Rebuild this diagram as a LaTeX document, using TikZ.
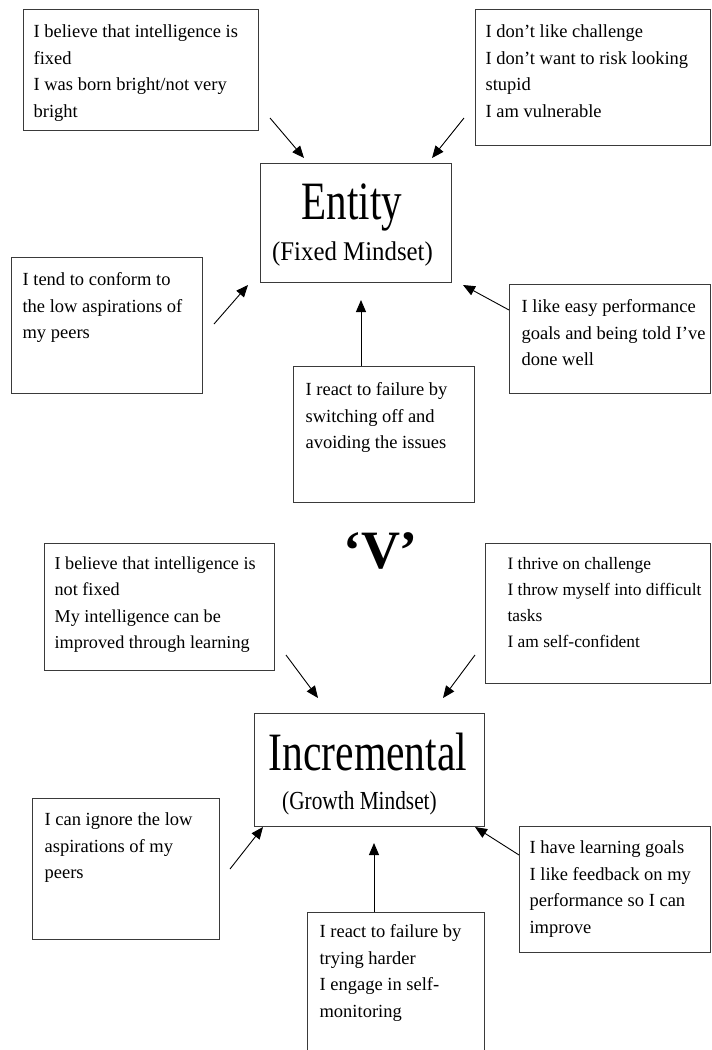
\documentclass[tikz,border=0pt]{standalone}
\usepackage{fontspec}
\setmainfont{Liberation Serif}
\usetikzlibrary{arrows.meta}

\definecolor{rim}{HTML}{3A3A3A}

% top-aligned card body: width, height, left padding, first-baseline drop, text
\newcommand\cardtext[5]{%
  \parbox[t][#2][t]{#1}{\raggedright\leftskip=#3\relax\rule{0pt}{#4}#5}}

\tikzset{
  card/.style={draw=rim, line width=1.2pt, inner sep=0pt, anchor=north west,
               font=\fontsize{18.5}{26.5}\selectfont},
  hub/.style={draw=rim, line width=1.2pt, inner sep=0pt, anchor=north west},
  headline/.style={anchor=base, inner sep=0pt, font=\fontsize{54}{54}\selectfont},
  subline/.style={anchor=base, inner sep=0pt},
  link/.style={line width=0.9pt, -{Triangle[length=12pt,width=10pt]}},
}

\begin{document}
\begin{tikzpicture}[x=1pt, y=-1pt]
\useasboundingbox (0,0) rectangle (712,1050);
\fill[white] (0,0) rectangle (712,1050);
\clip (0,0) rectangle (712,1050);

% ---------- Entity (fixed mindset) ----------
\node[hub, minimum width=191pt, minimum height=119pt] (entity) at (260,163) {};
\node[headline] (entityname) at (352,219) {\scalebox{0.76}[1]{Entity}};
\node[subline, font=\fontsize{27}{27}\selectfont] (entitysub) at (352.5,260)
  {\scalebox{0.92}[1]{(Fixed Mindset)}};

\node[card] (f1) at (23,9) {\cardtext{235pt}{121pt}{10pt}{28pt}{%
  I believe that intelligence is\\ fixed\\ I was born bright/not very\\ bright}};
\node[card] (f2) at (475,9) {\cardtext{235pt}{136pt}{10pt}{28pt}{%
  I don’t like challenge\\ I don’t want to risk looking\\ stupid\\ I am vulnerable}};
\node[card] (f3) at (11,257) {\cardtext{191pt}{136pt}{11pt}{28pt}{%
  I tend to conform to\\ the low aspirations of\\ my peers}};
\node[card] (f4) at (293,366) {\cardtext{181pt}{136pt}{12pt}{29pt}{%
  I react to failure by\\ switching off and\\ avoiding the issues}};
\node[card] (f5) at (509,284) {\cardtext{201pt}{109pt}{12pt}{28pt}{%
  I like easy performance\\ goals and being told I’ve\\ done well}};

\coordinate (f1s) at (270,118);  \coordinate (f1e) at (304,158);
\coordinate (f2s) at (464,118);  \coordinate (f2e) at (432,158);
\coordinate (f3s) at (214,324);  \coordinate (f3e) at (248,285);
\coordinate (f4s) at (361,366);  \coordinate (f4e) at (361,300);
\coordinate (f5s) at (509,310);  \coordinate (f5e) at (463,285);
\draw[link] (f1s) -- (f1e);
\draw[link] (f2s) -- (f2e);
\draw[link] (f3s) -- (f3e);
\draw[link] (f4s) -- (f4e);
\draw[link] (f5s) -- (f5e);

% ---------- versus ----------
\node[anchor=base, inner sep=0pt, font=\fontsize{54}{54}\selectfont\bfseries] (versus)
  at (380.5,568) {‘V’};

% ---------- Incremental (growth mindset) ----------
\node[hub, minimum width=230pt, minimum height=113pt] (incr) at (254,713) {};
\node[headline] (incrname) at (368,770) {\scalebox{0.77}[1]{Incremental}};
\node[subline, font=\fontsize{26}{26}\selectfont] (incrsub) at (359.5,809)
  {\scalebox{0.82}[1]{(Growth Mindset)}};

\node[card, font=\fontsize{18.2}{26.3}\selectfont] (g1) at (44,543)
  {\cardtext{230pt}{127pt}{10pt}{26pt}{%
  I believe that intelligence is\\ not fixed\\ My intelligence can be\\ improved through learning}};
\node[card, font=\fontsize{17.4}{25.8}\selectfont] (g2) at (485,543)
  {\cardtext{225pt}{140pt}{22pt}{26pt}{%
  I thrive on challenge\\ I throw myself into difficult\\ tasks\\ I am self-confident}};
\node[card] (g3) at (32,798) {\cardtext{187pt}{141pt}{12pt}{27pt}{%
  I can ignore the low\\ aspirations of my\\ peers}};
\node[card] (g4) at (307,912) {\cardtext{177pt}{170pt}{12pt}{25pt}{%
  I react to failure by\\ trying harder\\ I engage in self-\\ monitoring}};
\node[card] (g5) at (519,826) {\cardtext{191pt}{126pt}{10pt}{27pt}{%
  I have learning goals\\ I like feedback on my\\ performance so I can\\ improve}};

\coordinate (g1s) at (286,655);  \coordinate (g1e) at (318,698);
\coordinate (g2s) at (475,655);  \coordinate (g2e) at (443,698);
\coordinate (g3s) at (230,869);  \coordinate (g3e) at (263,827);
\coordinate (g4s) at (374,912);  \coordinate (g4e) at (374,843);
\coordinate (g5s) at (519,855);  \coordinate (g5e) at (475,827);
\draw[link] (g1s) -- (g1e);
\draw[link] (g2s) -- (g2e);
\draw[link] (g3s) -- (g3e);
\draw[link] (g4s) -- (g4e);
\draw[link] (g5s) -- (g5e);
\end{tikzpicture}
\end{document}
